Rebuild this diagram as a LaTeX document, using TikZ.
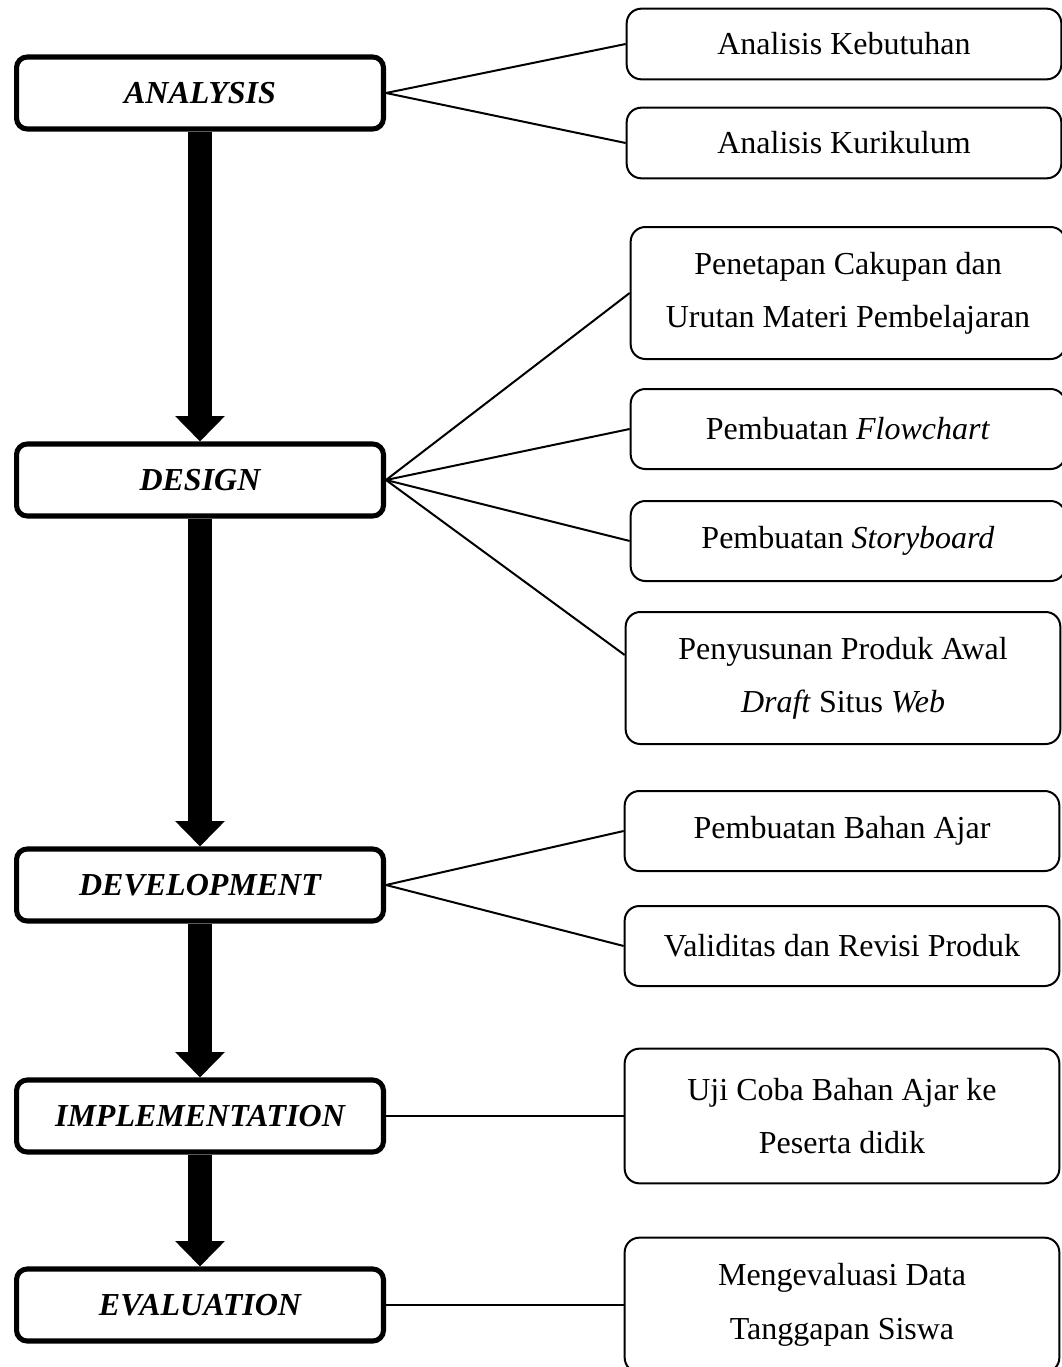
\documentclass[tikz,border=0pt]{standalone}
\usepackage{fontspec}
\setmainfont{Liberation Serif}
\usetikzlibrary{arrows.meta,calc}

\begin{document}
\begin{tikzpicture}[x=0.375pt,y=-0.375pt,
	stage/.style={draw,line width=1.9pt,rounded corners=4pt,minimum width=137.6pt,minimum height=27pt,inner sep=0pt,font=\fontsize{12}{14}\selectfont\bfseries\itshape},
	task/.style={draw,line width=0.75pt,rounded corners=5.5pt,minimum width=163pt,minimum height=30pt,inner sep=0pt,align=center,font=\fontsize{12}{20}\selectfont},
	tall/.style={minimum height=49.5pt},
	flow/.style={line width=9pt,-{Triangle[width=18pt,length=9.5pt]}},
	link/.style={line width=0.75pt}]
	\useasboundingbox (0,0) rectangle (1062,1367);
	\clip (0,0) rectangle (1062,1367);

	\node[stage] (ana) at (200,93) {ANALYSIS};
	\node[stage] (des) at (200,480) {DESIGN};
	\node[stage] (dev) at (200,885) {DEVELOPMENT};
	\node[stage] (imp) at (200,1116) {IMPLEMENTATION};
	\node[stage] (eva) at (200,1305) {EVALUATION};

	\node[task,minimum height=26.5pt] (ana1) at (844,44) {Analisis Kebutuhan};
	\node[task,minimum height=26.5pt] (ana2) at (844,143) {Analisis Kurikulum};
	\node[task,tall] (des1) at (848,293) {Penetapan Cakupan dan\\Urutan Materi Pembelajaran};
	\node[task] (des2) at (848,429) {Pembuatan \textit{Flowchart}};
	\node[task] (des3) at (848,541) {Pembuatan \textit{Storyboard}};
	\node[task,tall] (des4) at (843,678) {Penyusunan Produk Awal\\\textit{Draft} Situs \textit{Web}};
	\node[task] (dev1) at (842,831) {Pembuatan Bahan Ajar};
	\node[task] (dev2) at (842,946) {Validitas dan Revisi Produk};
	\node[task,tall,minimum height=50.5pt] (imp1) at (842,1116) {Uji Coba Bahan Ajar ke\\Peserta didik};
	\node[task,tall,minimum height=50.5pt] (eva1) at (842,1305) {Mengevaluasi Data\\Tanggapan Siswa};

	\draw[flow] (ana) -- (des);
	\draw[flow] (des) -- (dev);
	\draw[flow] (dev) -- (imp);
	\draw[flow] (imp) -- (eva);

	\draw[link] (ana.east) -- (ana1.west);
	\draw[link] (ana.east) -- (ana2.west);
	\draw[link] (des.east) -- (des1.west);
	\draw[link] (des.east) -- (des2.west);
	\draw[link] (des.east) -- (des3.west);
	\draw[link] (des.east) -- ($(des4.west)+(0,-23)$);
	\draw[link] (dev.east) -- (dev1.west);
	\draw[link] (dev.east) -- (dev2.west);
	\draw[link] (imp.east) -- (imp1.west);
	\draw[link] (eva.east) -- (eva1.west);
\end{tikzpicture}
\end{document}
